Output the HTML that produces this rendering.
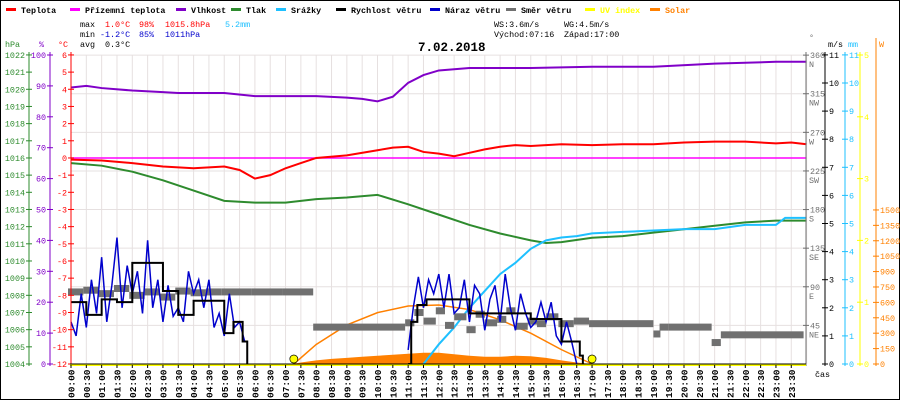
<!DOCTYPE html>
<html><head><meta charset="utf-8"><style>
html,body{margin:0;padding:0;background:#fff;}
svg{display:block;font-family:"Liberation Mono",monospace;}
</style></head><body>
<svg id="chart" width="900" height="400" viewBox="0 0 900 400" xmlns="http://www.w3.org/2000/svg">
<rect x="0.5" y="0.5" width="899" height="399" fill="#fff" stroke="#000"/>
<g id="legend" font-size="8.4" font-weight="bold"></g>
<g font-size="8.4">
<text x="80" y="27" fill="#000">max</text><text x="105" y="27" fill="#f00">1.0°C</text><text x="139" y="27" fill="#f00">98%</text><text x="165" y="27" fill="#f00">1015.8hPa</text><text x="225" y="27" fill="#1ec0ff">5.2mm</text>
<text x="80" y="37" fill="#000">min</text><text x="100" y="37" fill="#00c">-1.2°C</text><text x="139" y="37" fill="#00c">85%</text><text x="165" y="37" fill="#00c">1011hPa</text>
<text x="80" y="47" fill="#000">avg</text><text x="105" y="47" fill="#000">0.3°C</text>
<text x="494" y="27" fill="#000">WS:3.6m/s</text><text x="564" y="27" fill="#000">WG:4.5m/s</text>
<text x="494" y="37" fill="#000">Východ:07:16</text><text x="564" y="37" fill="#000">Západ:17:00</text>
</g>
<text x="418" y="51" font-size="12.5" font-weight="bold" fill="#000">7.02.2018</text>
<g id="grid"></g>
<g id="marks"></g>
<g id="axes"></g>
</svg>
<script>
const NS='http://www.w3.org/2000/svg';
const tempT=[0,1,2,3,4,5,5.5,6,6.5,7,7.5,8,9,10,10.5,11,11.5,12,12.5,13,13.5,14,14.5,15,16,17,18,19,20,21,22,23,23.5,24];
const tempV=[-0.1,-0.15,-0.3,-0.5,-0.6,-0.5,-0.7,-1.2,-1.0,-0.6,-0.3,0.0,0.15,0.45,0.6,0.65,0.35,0.25,0.1,0.3,0.5,0.65,0.75,0.7,0.8,0.75,0.8,0.8,0.9,0.95,0.95,0.85,0.9,0.8];
const feelT=[0,24];const feelV=[0,0];
const humT=[0,0.5,1,2,3,3.5,5,6,7,8,9,9.5,10,10.5,11,11.5,12,13,15,17,19,21,23,24];
const humV=[89.5,90,89.3,88.5,88,87.7,87.7,86.7,86.7,86.7,86.2,85.8,85,86.5,91,93.5,95,95.8,95.8,96.2,96.2,97.2,97.8,97.8];
const presT=[0,1,2,3,4,5,6,7,8,9,10,11,12,13,14,15,15.5,16,17,18,19,20,21,22,23,24];
const presV=[1015.7,1015.55,1015.2,1014.7,1014.1,1013.5,1013.4,1013.4,1013.6,1013.7,1013.85,1013.3,1012.7,1012.1,1011.6,1011.2,1011.05,1011.1,1011.35,1011.45,1011.65,1011.85,1012.05,1012.25,1012.35,1012.35];
const rainT=[11.5,12,12.5,13,13.5,14,14.5,15,15.5,16,16.5,17,18,19,20,21,22,23,23.3,24];
const rainV=[0,0.7,1.3,2.0,2.6,3.2,3.6,4.1,4.4,4.5,4.55,4.65,4.7,4.75,4.8,4.8,4.95,4.95,5.2,5.2];
const windT1=[0,0.5,1,1.5,2,2.5,3,3.5,4,4.5,5,5.3,5.6,5.75];
const windV1=[2.2,1.75,2.3,2.2,3.6,3.6,2.6,1.75,2.25,2.25,1.1,1.5,0.8,0];
const windT2=[11,11.1,11.3,11.6,12,12.5,13,13.5,14,14.5,15,15.5,16,16.3,16.6,16.7];
const windV2=[0,1.5,2.1,2.3,2.3,2.3,1.8,1.8,1.8,1.8,1.6,1.6,0.8,0.8,0.3,0];
const gustA=[1.5,1.0,2.5,1.3,3.0,1.8,3.8,1.5,2.8,4.5,2.0,3.5,2.5,3.3,1.8,4.4,2.0,3.0,1.5,2.8,1.7,2.0,1.5,3.3,2.5,3.0,2.0,3.0,1.3,1.8,1.0,2.5,1.3,1.5,0.8];
const gustB=[0.5,2.0,3.1,2.0,3.0,2.5,3.2,2.0,3.2,1.8,2.0,3.0,1.5,2.8,2.5,1.2,2.3,2.8,1.5,3.2,2.0,1.2,2.5,1.8,1.3,1.5,2.2,1.5,2.2,1.0,0.7,1.5,0.8,0];
const dirT=[0,0.5,1,1.5,2,2.5,3,3.5,4,4.5,5,6,7,8,11,11.3,11.6,12,12.3,12.6,13,13.3,13.6,14,14.3,14.6,15,15.3,15.6,16,16.5,17,19.1,19.3,19.6,21,21.3,24];
const dirV=[84,86,82,88,80,84,78,85,83,84,84,84,84,43,48,60,50,62,45,55,40,58,48,52,62,44,50,47,55,47,50,47,35,43,43,25,34,34];
const solT=[7.3,7.5,8,8.5,9,9.5,10,10.5,11,11.5,12,12.5,13,13.5,14,14.5,15,15.5,16,16.5,17];
const solV=[5,15,35,50,60,70,80,90,100,110,110,95,80,70,70,80,75,60,35,15,0];
const theoT=[7.27,8,9,10,11,12,13,14,15,16,17];
const theoV=[0,190,380,500,565,575,530,430,300,140,0];
const sunT=[7.27,17];
const X=t=>71+t*30.65;
const yT=v=>364-(v+12)*17.17;
const yH=v=>364-v*3.09;
const yP=v=>364-(v-1004)*17.17;
const yW=v=>364-v*28.1;
const yD=v=>364-v*0.858;
const yS=v=>364-v*0.1027;
const FS=8.4;
const grid=document.getElementById('grid'),marks=document.getElementById('marks'),axes=document.getElementById('axes');
function el(tag,attrs,parent){const e=document.createElementNS(NS,tag);for(const k in attrs)e.setAttribute(k,attrs[k]);parent.appendChild(e);return e;}
function txt(s,x,y,attrs,parent){const e=el('text',Object.assign({x:x,y:y},attrs),parent);e.textContent=s;return e;}
for(let i=0;i<=48;i++){el('line',{x1:X(i/2),x2:X(i/2),y1:55,y2:364,stroke:'#e6e0e0'},grid);}
for(let d=0;d<=360;d+=45){el('line',{x1:71,x2:806,y1:yD(d),y2:yD(d),stroke:'#e6e0e0'},grid);}
function line(T,V,fy,color,name,w,step){
 let d='';T.forEach((t,i)=>{const x=X(t),y=fy(V[i]);if(i===0)d='M'+x+' '+y;else{if(step)d+=' L'+x+' '+fy(V[i-1]);d+=' L'+x+' '+y;}});
 const p=el('path',{d:d,fill:'none',stroke:color,'stroke-width':w||2},marks);
 
 
}
{let d='M'+X(solT[0])+' 364';solT.forEach((t,i)=>{d+=' L'+X(t)+' '+yS(solV[i]);});d+=' L'+X(solT[solT.length-1])+' 364 Z';
 const p=el('path',{d:d,fill:'#ff8000'},marks);
 
 }
line(theoT,theoV,yS,'#ff8000','solar-theoretical-line',1.5);
line(feelT,feelV,yT,'#ff00ff','feels-like-line',1.5);
line(humT,humV,yH,'#8000c8','humidity-line',2);
line(presT,presV,yP,'#2e8b2e','pressure-line',2);
line(rainT,rainV,yW,'#1ec0ff','rain-line',2);
line(tempT,tempV,yT,'#f00','temperature-line',2);
dirT.forEach((t,i)=>{if(i===dirT.length-1)return;const x1=X(t),x2=X(dirT[i+1]);
 const w=Math.max(7,x2-x1);
 const r=el('rect',{x:x1-3,y:yD(dirV[i])-3.5,width:w,height:7,fill:'#707070'},marks);
 
 });
const gA=gustA.map((v,i)=>i/6),gB=gustB.map((v,i)=>11+i/6);
line(gA,gustA,yW,'#0000cc','gust-line-night',1.5);
line(gB,gustB,yW,'#0000cc','gust-line-day',1.5);
line(windT1,windV1,yW,'#000','wind-speed-line-night',2,true);
line(windT2,windV2,yW,'#000','wind-speed-line-day',2,true);
sunT.forEach(t=>{const c=el('circle',{cx:X(t),cy:359,r:4,fill:'#ff0',stroke:'#000','stroke-width':0.7},marks);
 
 });
function vaxis(x,color,ticks,fy,name,side,fmt){
 const g=el('g',{},axes);
 el('line',{x1:x,x2:x,y1:52,y2:366,stroke:color,'stroke-width':1},g);
 ticks.forEach(v=>{const y=fy(v);el('line',{x1:x-3,x2:x+3,y1:y,y2:y,stroke:color},g);
  txt(fmt?fmt(v):String(v),side<0?x-4:x+4,y+3,{'font-size':FS,fill:color,'text-anchor':side<0?'end':'start'},g);});
 return g;}
const pTicks=[];for(let p=1004;p<=1022;p++)pTicks.push(p);
vaxis(29,'#2e8b2e',pTicks,yP,'pressure-axis',-1);
vaxis(50,'#8000c8',[0,10,20,30,40,50,60,70,80,90,100],yH,'humidity-axis',-1);
const tTicks=[];for(let t=-12;t<=6;t++)tTicks.push(t);
vaxis(71,'#f00',tTicks,yT,'temperature-axis',-1);
const dirLab={45:'NE',90:'E',135:'SE',180:'S',225:'SW',270:'W',315:'NW',360:'N'};
{const g=vaxis(806,'#707070',[45,90,135,180,225,270,315,360],yD,'wind-direction-axis',1);
 [45,90,135,180,225,270,315,360].forEach(d=>txt(dirLab[d],809,yD(d)+12,{'font-size':FS,fill:'#707070'},g));}
const wTicks=[0,1,2,3,4,5,6,7,8,9,10,11];
vaxis(825,'#000',wTicks,yW,'wind-speed-axis',1);
vaxis(845,'#1ec0ff',wTicks,yW,'rain-axis',1);
vaxis(860,'#ffff00',[0,1,2,3,4,5],v=>364-v*61.8,'uv-axis',1);
{const g=vaxis(876,'#ff8000',[0,150,300,450,600,750,900,1050,1200,1350,1500],yS,'solar-axis',1);g.firstChild.setAttribute('y1',38);}
txt('hPa',5,47,{'font-size':FS,fill:'#2e8b2e'},axes);txt('%',39,47,{'font-size':FS,fill:'#8000c8'},axes);
txt('°C',58,47,{'font-size':FS,fill:'#f00'},axes);txt('°',809,40,{'font-size':FS,fill:'#707070'},axes);
txt('m/s',828,47,{'font-size':FS,fill:'#000'},axes);txt('mm',848,47,{'font-size':FS,fill:'#1ec0ff'},axes);
txt('W',879,47,{'font-size':FS,fill:'#ff8000'},axes);
el('line',{x1:70,x2:806,y1:365,y2:365,stroke:'#ff0','stroke-width':2},axes);
el('line',{x1:70,x2:806,y1:364,y2:364,stroke:'#000','stroke-width':1},axes);
for(let i=0;i<48;i++){const h=Math.floor(i/2),m=i%2?'30':'00';const s=(h<10?'0':'')+h+':'+m;const x=X(i/2);
 el('line',{x1:x,x2:x,y1:365,y2:368,stroke:'#000'},axes);
 const t=txt(s,0,0,{'font-size':9.5,'font-weight':'bold',fill:'#000',transform:'translate('+(x+3.5)+',398) rotate(-90)'},axes);
 
 }
txt('čas',815,377,{'font-size':FS,fill:'#000'},axes);
const leg=[['Teplota','#f00',6],['Přízemní teplota','#ff00ff',70],['Vlhkost','#8000c8',176],['Tlak','#2e8b2e',231],['Srážky','#1ec0ff',276],['Rychlost větru','#000',336],['Náraz větru','#0000cc',430],['Směr větru','#707070',506],['UV index','#ffff00',585],['Solar','#ff8000',650]];
const lg=document.getElementById('legend');
leg.forEach(l=>{const g=el('g',{},lg);
 el('rect',{x:l[2],y:8,width:10,height:3,fill:l[1]},g);
 txt(l[0],l[2]+15,13,{fill:(l[1]==='#ffff00'||l[1]==='#ff8000')?l[1]:'#000'},g);});
</script>
</body></html>
